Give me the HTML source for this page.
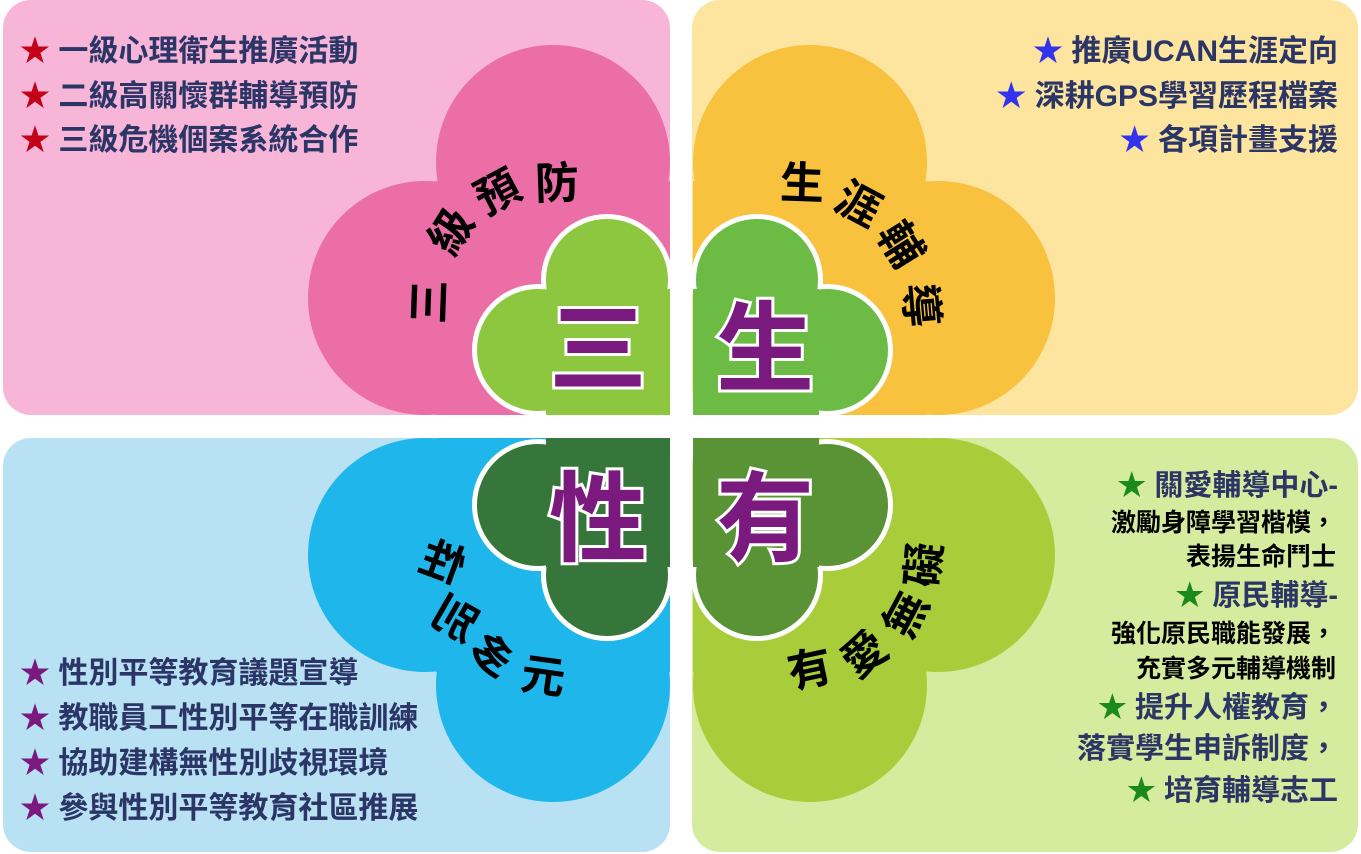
<!DOCTYPE html>
<html><head><meta charset="utf-8">
<style>
body{margin:0;width:1361px;height:854px;background:#fff;overflow:hidden;font-family:"Liberation Sans","Noto Sans CJK TC",sans-serif;}
svg{position:absolute;left:0;top:0}
.t{font-family:"Liberation Sans","Noto Sans CJK TC",sans-serif;}
</style></head>
<body>
<svg width="1361" height="854" viewBox="0 0 1361 854">
<rect x="3" y="0" width="667" height="415" rx="28" fill="#f7b5d8"/>
<rect x="692" y="0" width="666" height="415" rx="28" fill="#fde59f"/>
<rect x="3" y="438" width="667" height="414" rx="28" fill="#b8e1f4"/>
<rect x="692" y="438" width="666" height="414" rx="28" fill="#d5eb9d"/>

<g fill="#eb6ea6">
<circle cx="553" cy="162" r="117"/><circle cx="425" cy="298" r="117"/><rect x="436" y="181" width="234" height="234"/>
</g>
<g fill="#f8c13e">
<circle cx="810" cy="162" r="117"/><circle cx="938" cy="298" r="117"/><rect x="693" y="181" width="234" height="234"/>
</g>
<g fill="#1fb6ec">
<circle cx="425" cy="555" r="117"/><circle cx="553" cy="685" r="117"/><rect x="436" y="438" width="234" height="234"/>
</g>
<g fill="#a9cd3a">
<circle cx="938" cy="555" r="117"/><circle cx="810" cy="685" r="117"/><rect x="693" y="438" width="234" height="234"/>
</g>

<g>
<g fill="#fff"><circle cx="607" cy="280" r="66"/><circle cx="538" cy="350" r="66"/><rect x="546" y="289" width="124" height="126"/></g>
<g fill="#8dc63f"><circle cx="607" cy="280" r="61"/><circle cx="538" cy="350" r="61"/><rect x="546" y="289" width="124" height="126"/></g>
</g>
<g>
<g fill="#fff"><circle cx="757" cy="280" r="66"/><circle cx="827" cy="350" r="66"/><rect x="693" y="289" width="126" height="126"/></g>
<g fill="#6cbb45"><circle cx="757" cy="280" r="61"/><circle cx="827" cy="350" r="61"/><rect x="693" y="289" width="126" height="126"/></g>
</g>
<g>
<g fill="#fff"><circle cx="538" cy="505" r="66"/><circle cx="607" cy="575" r="66"/><rect x="546" y="438" width="124" height="129"/></g>
<g fill="#36763a"><circle cx="538" cy="505" r="61"/><circle cx="607" cy="575" r="61"/><rect x="546" y="438" width="124" height="129"/></g>
</g>
<g>
<g fill="#fff"><circle cx="827" cy="505" r="66"/><circle cx="757" cy="575" r="66"/><rect x="693" y="438" width="126" height="129"/></g>
<g fill="#5a9236"><circle cx="827" cy="505" r="61"/><circle cx="757" cy="575" r="61"/><rect x="693" y="438" width="126" height="129"/></g>
</g>

<g class="t" font-size="98" font-weight="bold" fill="#7b1a7e" stroke="#fff" stroke-width="6" paint-order="stroke" text-anchor="middle">
<text x="598" y="383">三</text>
<text x="765" y="383">生</text>
<text x="598" y="553">性</text>
<text x="765" y="553">有</text>
</g>

<g class="t" font-size="44" font-weight="bold" fill="#000" text-anchor="middle" dominant-baseline="central">
<g>
<text transform="translate(430,302) rotate(-88)">三</text>
<text transform="translate(452,232) rotate(-58)">級</text>
<text transform="translate(498,193) rotate(-28)">預</text>
<text transform="translate(557,184) rotate(-2)">防</text>
</g>
<g>
<text transform="translate(802,184) rotate(2)">生</text>
<text transform="translate(858,205) rotate(28)">涯</text>
<text transform="translate(900,245) rotate(58)">輔</text>
<text transform="translate(920,305) rotate(85)">導</text>
</g>
<g>
<text transform="translate(442,563) rotate(20) scale(-1,1)">性</text>
<text transform="translate(455,620) rotate(30) scale(-1,1)">別</text>
<text transform="translate(490,657) rotate(22) scale(-1,1)">多</text>
<text transform="translate(543,677) rotate(8)">元</text>
</g>
<g>
<text transform="translate(810,670) rotate(-12)">有</text>
<text transform="translate(865,655) rotate(-38)">愛</text>
<text transform="translate(907,615) rotate(-62)">無</text>
<text transform="translate(925,565) rotate(-85)">礙</text>
</g>
</g>

<g class="t" font-size="30" font-weight="bold" fill="#2b3566">
<text x="20" y="61"><tspan fill="#c40018">★</tspan> 一級心理衛生推廣活動</text>
<text x="20" y="106"><tspan fill="#c40018">★</tspan> 二級高關懷群輔導預防</text>
<text x="20" y="150"><tspan fill="#c40018">★</tspan> 三級危機個案系統合作</text>
</g>
<g class="t" font-size="30" font-weight="bold" fill="#2b3566" text-anchor="end">
<text x="1338" y="61"><tspan fill="#3333ee">★</tspan> 推廣UCAN生涯定向</text>
<text x="1338" y="106"><tspan fill="#3333ee">★</tspan> 深耕GPS學習歷程檔案</text>
<text x="1338" y="150"><tspan fill="#3333ee">★</tspan> 各項計畫支援</text>
</g>
<g class="t" font-size="30" font-weight="bold" fill="#2b3566">
<text x="20" y="683"><tspan fill="#7b1a7e">★</tspan> 性別平等教育議題宣導</text>
<text x="20" y="728"><tspan fill="#7b1a7e">★</tspan> 教職員工性別平等在職訓練</text>
<text x="20" y="773"><tspan fill="#7b1a7e">★</tspan> 協助建構無性別歧視環境</text>
<text x="20" y="818"><tspan fill="#7b1a7e">★</tspan> 參與性別平等教育社區推展</text>
</g>
<g class="t" font-weight="bold" fill="#2b3566" text-anchor="end">
<text x="1338" y="495" font-size="29"><tspan fill="#1a8a1a">★</tspan> 關愛輔導中心-</text>
<text x="1336" y="531" font-size="25" fill="#000">激勵身障學習楷模，</text>
<text x="1336" y="565" font-size="25" fill="#000">表揚生命鬥士</text>
<text x="1338" y="605" font-size="29"><tspan fill="#1a8a1a">★</tspan> 原民輔導-</text>
<text x="1336" y="642" font-size="25" fill="#000">強化原民職能發展，</text>
<text x="1336" y="677" font-size="25" fill="#000">充實多元輔導機制</text>
<text x="1338" y="717" font-size="29"><tspan fill="#1a8a1a">★</tspan> 提升人權教育，</text>
<text x="1338" y="758" font-size="29">落實學生申訴制度，</text>
<text x="1338" y="800" font-size="29"><tspan fill="#1a8a1a">★</tspan> 培育輔導志工</text>
</g>
</svg>
</body></html>
